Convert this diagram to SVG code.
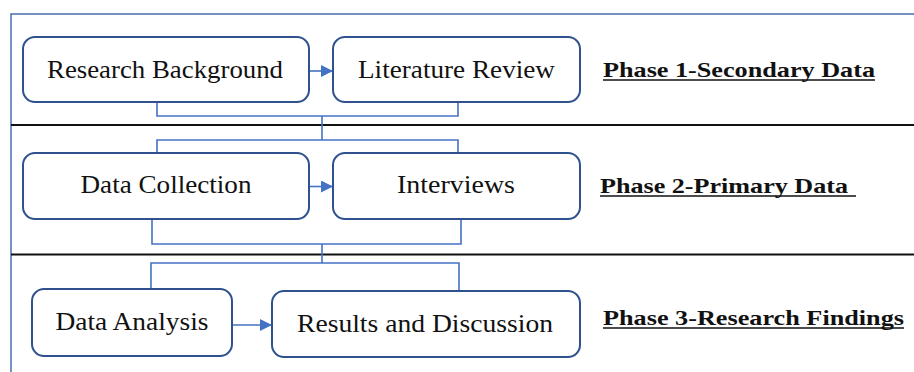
<svg xmlns="http://www.w3.org/2000/svg" width="914" height="372" viewBox="0 0 914 372">
  <style>
    .frame { fill: none; stroke: #4a6fb0; stroke-width: 1.5; }
    .divider { fill: none; stroke: #111; stroke-width: 2; }
    .box { fill: #fff; stroke: #2f528f; stroke-width: 2; }
    .link { fill: none; stroke: #4472c4; stroke-width: 1.6; }
    .label { font-family: "Liberation Serif", "Times New Roman", serif; font-size: 24.5px; fill: #111; text-anchor: middle; }
    .phase { font-family: "Liberation Serif", "Times New Roman", serif; font-size: 22px; font-weight: bold; fill: #111; }
    .uline { stroke: #111; stroke-width: 1.3; }
  </style>
  <defs>
    <marker id="arrow" viewBox="0 0 12 12" refX="12" refY="6" markerWidth="12" markerHeight="12" markerUnits="userSpaceOnUse" orient="auto">
      <path d="M0,0 L12,6 L0,12 Z" fill="#4472c4"/>
    </marker>
  </defs>

  <rect width="914" height="372" fill="#fff"/>

  <!-- outer frame and phase dividers -->
  <g id="frame">
    <path class="frame" d="M11,372 V14 H914"/>
    <line class="divider" x1="11" y1="125" x2="914" y2="125"/>
    <line class="divider" x1="11" y1="254.5" x2="914" y2="254.5"/>
  </g>

  <!-- connectors -->
  <g id="connectors">
    <path class="link" d="M157,102 V116 H458 V102"/>
    <path class="link" d="M322,116 V140"/>
    <path class="link" d="M157,153 V140 H458 V153"/>
    <path class="link" d="M152,219 V244 H461 V219"/>
    <path class="link" d="M322,244 V263"/>
    <path class="link" d="M151,289 V263 H459 V291"/>
    <line class="link" x1="309" y1="71" x2="333" y2="71" marker-end="url(#arrow)"/>
    <line class="link" x1="309" y1="186.5" x2="333" y2="186.5" marker-end="url(#arrow)"/>
    <line class="link" x1="232" y1="325" x2="272" y2="325" marker-end="url(#arrow)"/>
  </g>

  <!-- phase 1 -->
  <g id="research-background">
    <rect class="box" x="23" y="37" width="286" height="65" rx="12"/>
    <text class="label" x="165" y="78" textLength="236" lengthAdjust="spacingAndGlyphs">Research Background</text>
  </g>
  <g id="literature-review">
    <rect class="box" x="333" y="37" width="247" height="65" rx="12"/>
    <text class="label" x="456.5" y="78" textLength="197" lengthAdjust="spacingAndGlyphs">Literature Review</text>
  </g>
  <g id="phase-1">
    <text class="phase" x="603" y="77" textLength="272" lengthAdjust="spacingAndGlyphs">Phase 1-Secondary Data</text>
    <line class="uline" x1="603" y1="80" x2="875" y2="80"/>
  </g>

  <!-- phase 2 -->
  <g id="data-collection">
    <rect class="box" x="23" y="153" width="286" height="66" rx="12"/>
    <text class="label" x="166" y="193" textLength="171" lengthAdjust="spacingAndGlyphs">Data Collection</text>
  </g>
  <g id="interviews">
    <rect class="box" x="333" y="153" width="247" height="66" rx="12"/>
    <text class="label" x="456" y="193" textLength="118" lengthAdjust="spacingAndGlyphs">Interviews</text>
  </g>
  <g id="phase-2">
    <text class="phase" x="600" y="193" textLength="248" lengthAdjust="spacingAndGlyphs">Phase 2-Primary Data</text>
    <line class="uline" x1="600" y1="196" x2="856" y2="196"/>
  </g>

  <!-- phase 3 -->
  <g id="data-analysis">
    <rect class="box" x="32" y="289" width="200" height="67" rx="12"/>
    <text class="label" x="132" y="330" textLength="153" lengthAdjust="spacingAndGlyphs">Data Analysis</text>
  </g>
  <g id="results-discussion">
    <rect class="box" x="272" y="291" width="308" height="66" rx="12"/>
    <text class="label" x="425" y="332" textLength="256" lengthAdjust="spacingAndGlyphs">Results and Discussion</text>
  </g>
  <g id="phase-3">
    <text class="phase" x="603" y="325" textLength="301" lengthAdjust="spacingAndGlyphs">Phase 3-Research Findings</text>
    <line class="uline" x1="603" y1="328" x2="904" y2="328"/>
  </g>
</svg>
